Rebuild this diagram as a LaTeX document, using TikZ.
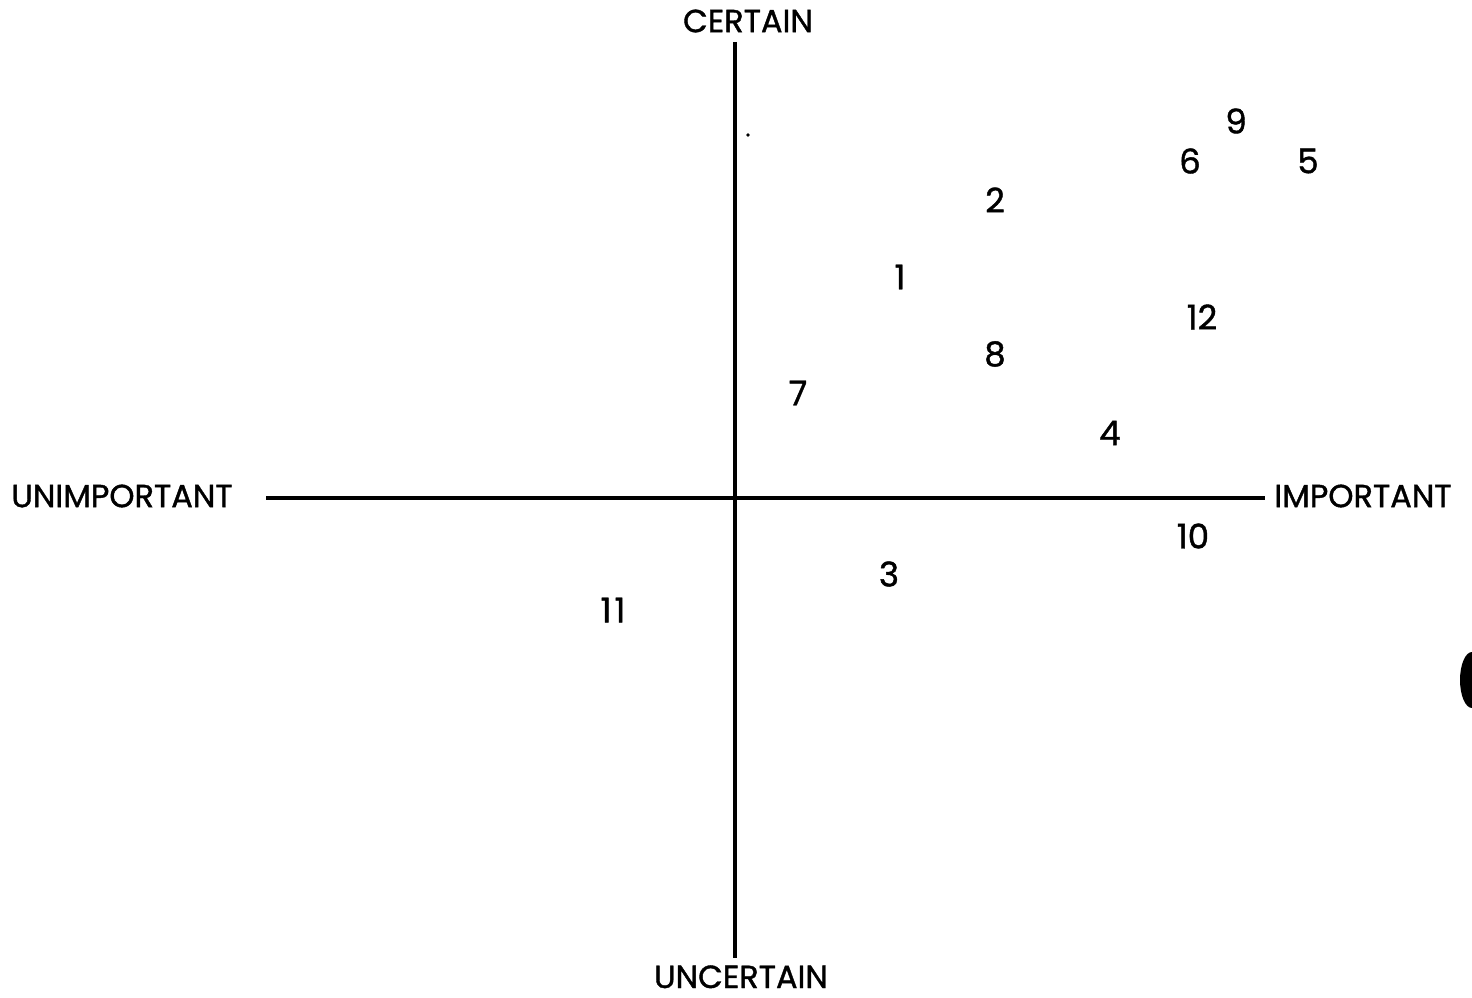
\documentclass[tikz,border=0pt]{standalone}
\usepackage{fontspec}
\setmainfont{Poppins}[FakeBold=1.2]
\begin{document}
\begin{tikzpicture}[x=1pt,y=-1pt,
  lbl/.style={inner sep=0pt,font=\fontsize{32}{34}\selectfont},
  num/.style={inner sep=0pt,font=\fontsize{34}{36}\selectfont},
  axis/.style={line width=3.2pt}]
\useasboundingbox[fill=white] (0,0) rectangle (1472,998);
% labels
\node[lbl] (cert) at (748,21) {CERTAIN};
\node[lbl,anchor=base,text depth=0pt] (uncert) at (741,988) {UNCERTAIN};
\node[lbl] (unimp) at (122,496) {UNIMPORTANT};
\node[lbl] (imp) at (1363,496) {IMPORTANT};
% axes
\coordinate (vtop) at (735,42);
\coordinate (vbot) at (735,958);
\coordinate (hl) at (266,498);
\coordinate (hr) at (1265,498);
\draw[axis] (vtop) -- (vbot);
\draw[axis] (hl) -- (hr);
% points
\node[num] (n9) at (1236,121) {9};
\node[num] (n6) at (1190,161) {6};
\node[num] (n5) at (1308,161) {5};
\node[num] (n2) at (995,200) {2};
\node[num] (n1) at (900,277) {1};
\node[num] (n12) at (1202,317) {12};
\node[num] (n8) at (995,354) {8};
\node[num] (n7) at (798,393) {7};
\node[num] (n4) at (1110,433) {4};
\node[num] (n10) at (1193,536) {10};
\node[num] (n3) at (889,574) {3};
\node[num] (n11) at (613,610) {1\kern3pt1};
% specks
\fill (748,135) circle (1.8);
\fill (1472,680) ellipse (12 and 28);
\end{tikzpicture}
\end{document}
